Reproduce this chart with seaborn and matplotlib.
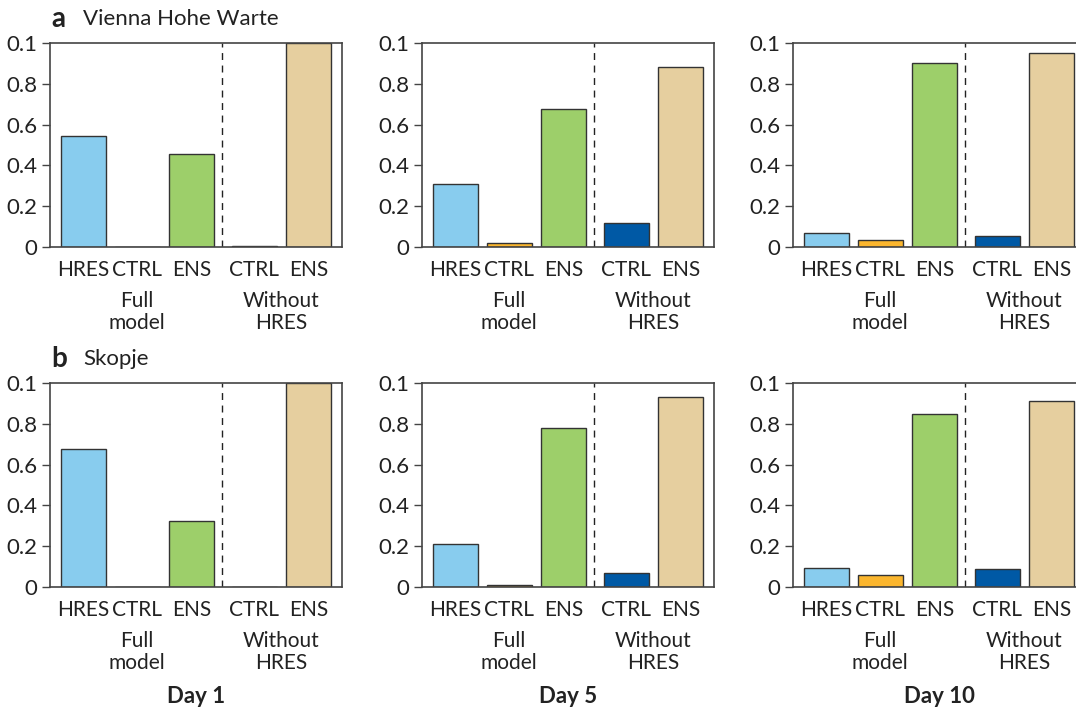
import matplotlib
matplotlib.use("Agg")
import matplotlib.pyplot as plt
import pandas as pd
import seaborn as sns

# bar keys (full model / without HRES) and what is written under them
bar_keys = ["HRES", "CTRL", "ENS", "CTRL w/o", "ENS w/o"]
tick_labels = ["HRES", "CTRL", "ENS", "CTRL", "ENS"]
group_labels = ["Full\nmodel", "Without\nHRES"]
y_tick_labels = ["0", "0.2", "0.4", "0.6", "0.8", "0.1"]
days = ["Day 1", "Day 5", "Day 10"]
stations = ["Vienna Hohe Warte", "Skopje"]
letters = ["a", "b"]

# weights, one list per day
vienna = [
    [0.545, 0.002, 0.458, 0.003, 1.0],
    [0.307, 0.020, 0.675, 0.120, 0.882],
    [0.069, 0.036, 0.902, 0.052, 0.949],
]
skopje = [
    [0.676, 0.002, 0.322, 0.002, 1.0],
    [0.211, 0.010, 0.779, 0.069, 0.933],
    [0.092, 0.060, 0.848, 0.087, 0.913],
]

colors = {"HRES": "#88CCEE", "CTRL": "#FBB62E", "ENS": "#9DCF6A",
          "CTRL w/o": "#0059A5", "ENS w/o": "#E6CF9F"}
# x positions, with a small gap between the two groups
xpos = [0, 1, 2, 3.16, 4.16]

sns.set_style("ticks")
plt.rcParams["font.family"] = ["Lato", "DejaVu Sans"]

W, H = 1076, 713
fig = plt.figure(figsize=(W / 100, H / 100), dpi=100)

col_left = [50, 422, 793]
row_top = [43, 383]
ax_w, ax_h = 292, 204

for r, vals_by_day in enumerate([vienna, skopje]):
    for c, vals in enumerate(vals_by_day):
        rect = [col_left[c] / W, 1 - (row_top[r] + ax_h) / H, ax_w / W, ax_h / H]
        ax = fig.add_axes(rect)
        df = pd.DataFrame({"x": xpos, "weight": vals, "bar": bar_keys})
        sns.barplot(data=df, x="x", y="weight", hue="bar", palette=colors,
                    native_scale=True, dodge=False, width=0.83, legend=False,
                    saturation=1, edgecolor="#333333", linewidth=1.0, ax=ax)
        ax.axvline(2.57, color="#222222", lw=1.0, ls=(0, (5, 4)))
        ax.set_xlim(-0.61, 4.78)
        ax.set_ylim(0, 1.0)
        ax.set_yticks([0, 0.2, 0.4, 0.6, 0.8, 1.0])
        ax.set_yticklabels(y_tick_labels)
        ax.set_xticks(xpos)
        ax.set_xticklabels(tick_labels)
        ax.set_xlabel("")
        ax.set_ylabel("")
        ax.tick_params(axis="y", length=6, width=1, labelsize=16, color="#444444",
                       labelcolor="#222222", pad=3)
        ax.tick_params(axis="x", length=0, labelsize=15, labelcolor="#222222", pad=9)
        for s in ax.spines.values():
            s.set_color("#444444")
            s.set_linewidth(1.2)
        for gx, g in zip([1, 3.66], group_labels):
            ax.annotate(g, xy=(gx, 0), xycoords=("data", "axes fraction"),
                        xytext=(0, -32), textcoords="offset points",
                        ha="center", va="top", fontsize=15, color="#222222",
                        linespacing=1.1)
        if r == 1:
            ax.annotate(days[c], xy=(0.5, 0), xycoords="axes fraction",
                        xytext=(0, -79), textcoords="offset points",
                        ha="center", va="center", fontsize=16,
                        fontweight="bold", color="#222222")
    y_title = 1 - (row_top[r] - 24) / H
    fig.text(51 / W, y_title, letters[r], fontsize=20, fontweight="bold",
             va="center", ha="left", color="#222222")
    fig.text(83 / W, y_title, stations[r], fontsize=16, va="center",
             ha="left", color="#222222")

fig.savefig("out.png", dpi=100)
